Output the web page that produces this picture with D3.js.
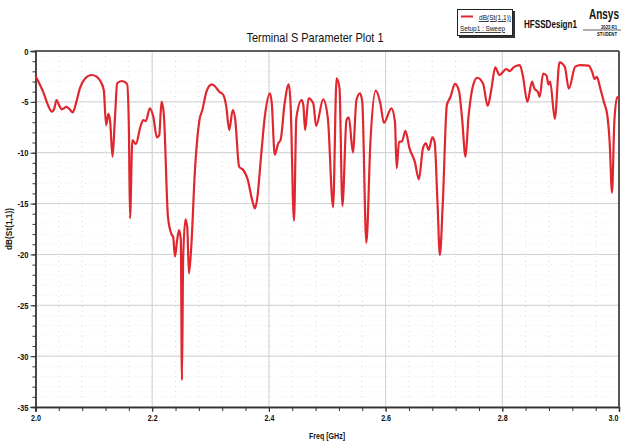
<!DOCTYPE html>
<html>
<head>
<meta charset="utf-8">
<script src="https://cdn.jsdelivr.net/npm/d3@7"></script>
<style>
  body { margin: 0; background: #fff; }
  svg text { font-family: "Liberation Sans", Arial, sans-serif; }
</style>
</head>
<body>
<div id="chart"></div>
<script>
// S11 sweep
var freqs = [2.000, 2.013, 2.022, 2.028, 2.032, 2.036, 2.041, 2.045, 2.053, 2.058, 2.064, 2.070, 2.076, 2.085, 2.096,
  2.104, 2.110, 2.117, 2.121, 2.125, 2.128, 2.132, 2.136, 2.140, 2.148, 2.157, 2.160, 2.162, 2.166, 2.172,
  2.180, 2.185, 2.189, 2.196, 2.202, 2.208, 2.212, 2.216, 2.220, 2.227, 2.233, 2.236, 2.239, 2.243, 2.246,
  2.249, 2.251, 2.253, 2.257, 2.260, 2.263, 2.267, 2.273, 2.281, 2.286, 2.293, 2.302, 2.307, 2.315, 2.322,
  2.327, 2.332, 2.338, 2.342, 2.349, 2.356, 2.363, 2.372, 2.376, 2.380, 2.387, 2.393, 2.402, 2.405, 2.410,
  2.416, 2.420, 2.427, 2.434, 2.437, 2.443, 2.447, 2.456, 2.459, 2.462, 2.468, 2.476, 2.481, 2.493, 2.501,
  2.510, 2.516, 2.521, 2.526, 2.533, 2.537, 2.544, 2.550, 2.556, 2.560, 2.567, 2.574, 2.583, 2.591, 2.597,
  2.610, 2.616, 2.619, 2.623, 2.628, 2.634, 2.641, 2.650, 2.657, 2.664, 2.669, 2.674, 2.680, 2.684, 2.689,
  2.693, 2.698, 2.705, 2.711, 2.719, 2.726, 2.731, 2.737, 2.742, 2.745, 2.750, 2.757, 2.767, 2.775, 2.781,
  2.788, 2.795, 2.807, 2.812, 2.821, 2.830, 2.835, 2.843, 2.851, 2.855, 2.861, 2.864, 2.870, 2.876, 2.879,
  2.882, 2.890, 2.898, 2.907, 2.914, 2.925, 2.934, 2.948, 2.954, 2.958, 2.962, 2.968, 2.974, 2.980, 2.984,
  2.988, 2.992, 2.997, 3.000];
var s11 = [-2.45, -4.0, -5.4, -5.97, -5.7, -4.82, -5.4, -5.73, -5.5, -5.7, -6.03, -5.0, -3.67, -2.7, -2.36,
  -2.5, -2.85, -3.83, -7.28, -6.19, -7.0, -10.39, -6.8, -3.18, -2.95, -3.24, -7.44, -16.45, -8.75, -9.14,
  -7.4, -6.8, -6.9, -5.64, -6.5, -8.49, -8.3, -4.98, -6.29, -16.3, -18.0, -18.3, -20.2, -18.5, -17.6,
  -18.5, -32.35, -20.5, -16.55, -17.3, -21.86, -19.2, -12.0, -6.78, -5.8, -4.0, -3.28, -3.44, -4.0, -4.33,
  -5.48, -7.77, -5.8, -6.6, -11.38, -11.7, -12.5, -14.8, -15.47, -14.5, -10.06, -6.46, -4.16, -5.2, -10.2,
  -9.08, -8.75, -5.14, -3.28, -5.0, -16.68, -6.6, -4.82, -5.3, -7.77, -4.65, -5.14, -7.37, -4.75, -6.6,
  -15.37, -2.69, -3.67, -15.24, -6.78, -6.52, -9.96, -4.82, -4.16, -5.0, -18.85, -8.92, -3.9, -5.14, -7.05,
  -5.64, -6.95, -11.53, -8.92, -8.9, -7.84, -9.57, -10.88, -12.62, -9.57, -9.08, -9.73, -8.49, -8.92, -15.0,
  -20.06, -14.98, -5.31, -4.55, -3.24, -4.0, -6.6, -10.39, -6.5, -5.0, -3.36, -2.63, -3.2, -5.4, -3.85,
  -1.6, -2.36, -1.77, -1.97, -1.54, -1.38, -2.36, -5.0, -3.02, -3.69, -4.03, -4.52, -2.21, -2.44, -3.3,
  -3.0, -6.67, -1.12, -1.54, -3.7, -1.54, -1.38, -1.44, -2.05, -2.75, -2.54, -3.7, -5.0, -6.33, -8.98,
  -13.92, -6.98, -4.52, -4.68];

var xTicks = [2.0, 2.2, 2.4, 2.6, 2.8, 3.0];
var yTicks = [0, -5, -10, -15, -20, -25, -30, -35];

var W = 621, H = 441;
var margin = {left: 35.5, right: 2, top: 51, bottom: 34};

var svg = d3.select('#chart').append('svg')
    .attr('width', W)
    .attr('height', H)
    .attr('viewBox', [0, 0, W, H]);

var x = d3.scaleLinear().domain([2, 3]).range([margin.left, W - margin.right]);
var y = d3.scaleLinear().domain([-35, 0]).range([H - margin.bottom, margin.top]);

var x0 = x.range()[0], x1 = x.range()[1], y0 = y.range()[1], y1 = y.range()[0];

// squeeze text to look like the narrow font of the original
function narrow(sel, k) {
  sel.each(function () {
    var w = this.getComputedTextLength();
    d3.select(this).attr('textLength', w * k).attr('lengthAdjust', 'spacingAndGlyphs');
  });
}
function fitTo(sel, w) {
  sel.attr('textLength', w).attr('lengthAdjust', 'spacingAndGlyphs');
}

// minor grid (dotted)
var g = svg.append('g');
g.selectAll('.mgx').data(d3.range(2, 3.0001, 0.04))
  .enter().append('line')
    .attr('x1', d => x(d)).attr('x2', d => x(d))
    .attr('y1', y0).attr('y2', y1)
    .attr('stroke', '#dcdcdc').attr('stroke-dasharray', '1,4');
g.selectAll('.mgy').data(d3.range(-35, 0.001, 1))
  .enter().append('line')
    .attr('x1', x0).attr('x2', x1)
    .attr('y1', d => y(d)).attr('y2', d => y(d))
    .attr('stroke', '#e4e4e4').attr('stroke-dasharray', '1,4');

// major grid
g.selectAll('.gx').data(xTicks)
  .enter().append('line')
    .attr('x1', d => x(d)).attr('x2', d => x(d))
    .attr('y1', y0).attr('y2', y1)
    .attr('stroke', '#cfcfcf').attr('stroke-width', 1);
g.selectAll('.gy').data(yTicks)
  .enter().append('line')
    .attr('x1', x0).attr('x2', x1)
    .attr('y1', d => y(d)).attr('y2', d => y(d))
    .attr('stroke', '#cfcfcf').attr('stroke-width', 1);

// axes
var xMinor = d3.axisBottom(x).tickValues(d3.range(2, 3.0001, 0.04)).tickSize(4).tickFormat('');
var xAxis = d3.axisBottom(x).tickValues(xTicks).tickSize(5).tickPadding(2).tickFormat(d3.format('.1f'));
var yMinor = d3.axisLeft(y).tickValues(d3.range(-35, 0.001, 1)).tickSize(3).tickFormat('');
var yAxis = d3.axisLeft(y).tickValues(yTicks).tickSize(5).tickPadding(2).tickFormat(d => String(d));

function styleAxis(sel) {
  sel.select('.domain').attr('stroke', '#333').attr('stroke-width', 1.3);
  sel.selectAll('.tick line').attr('stroke', '#333');
  sel.selectAll('text')
    .attr('fill', '#111')
    .attr('font-size', 9.5)
    .attr('font-weight', 'bold');
}

svg.append('g').attr('transform', `translate(0,${y1})`).call(xMinor).call(styleAxis);
var xg = svg.append('g').attr('transform', `translate(0,${y1})`).call(xAxis).call(styleAxis);
xg.selectAll('text').call(narrow, 0.75);
// last label sits against the right edge
xg.selectAll('.tick text').filter(d => d === 3.0).attr('text-anchor', 'end').attr('dx', -1);
svg.append('g').attr('transform', `translate(${x0},0)`).call(yMinor).call(styleAxis);
svg.append('g').attr('transform', `translate(${x0},0)`).call(yAxis).call(styleAxis)
  .selectAll('text').call(narrow, 0.8);

// frame top / right
svg.append('line').attr('x1', x0).attr('x2', x1).attr('y1', y0).attr('y2', y0)
  .attr('stroke', '#333').attr('stroke-width', 1.3);
svg.append('line').attr('x1', x1).attr('x2', x1).attr('y1', y0).attr('y2', y1)
  .attr('stroke', '#555').attr('stroke-width', 2);

// curve
var data = freqs.map((f, i) => ({f: f, v: s11[i]}));
var line = d3.line()
    .x(d => x(d.f))
    .y(d => y(d.v))
    .curve(d3.curveMonotoneX);

svg.append('path')
    .datum(data)
    .attr('d', line)
    .attr('fill', 'none')
    .attr('stroke', '#e0262e')
    .attr('stroke-width', 2.2)
    .attr('stroke-linejoin', 'round');

// titles
svg.append('text')
    .attr('x', 315).attr('y', 42)
    .attr('text-anchor', 'middle')
    .attr('font-size', 13.5)
    .attr('fill', '#111')
    .text('Terminal S Parameter Plot 1')
    .call(fitTo, 137);

svg.append('text')
    .attr('x', 327).attr('y', 439)
    .attr('text-anchor', 'middle')
    .attr('font-size', 9)
    .attr('font-weight', 'bold')
    .attr('fill', '#111')
    .text('Freq [GHz]')
    .call(fitTo, 36);

svg.append('text')
    .attr('transform', `translate(12,${(y0 + y1) / 2}) rotate(-90)`)
    .attr('text-anchor', 'middle')
    .attr('font-size', 9)
    .attr('font-weight', 'bold')
    .attr('fill', '#111')
    .text('dB(St(1,1))')
    .call(fitTo, 42);

// legend box
var lg = svg.append('g');
lg.append('rect').attr('x', 459).attr('y', 11).attr('width', 56).attr('height', 27)
  .attr('fill', '#333');
lg.append('rect').attr('x', 457.5).attr('y', 9.5).attr('width', 55).attr('height', 26)
  .attr('fill', '#fff').attr('stroke', '#222').attr('stroke-width', 1);
lg.append('line').attr('x1', 461).attr('x2', 473).attr('y1', 16.5).attr('y2', 16.5)
  .attr('stroke', '#e0262e').attr('stroke-width', 2);
lg.append('text').attr('x', 479).attr('y', 20)
  .attr('font-size', 8).attr('text-decoration', 'underline').attr('fill', '#111')
  .text('dB(St(1,1))')
  .call(fitTo, 32);
lg.append('text').attr('x', 460).attr('y', 31)
  .attr('font-size', 8).attr('text-decoration', 'underline').attr('fill', '#111')
  .text('Setup1 : Sweep')
  .call(fitTo, 45);

svg.append('text').attr('x', 524).attr('y', 28)
  .attr('font-size', 11).attr('font-weight', 'bold').attr('fill', '#111')
  .text('HFSSDesign1')
  .call(fitTo, 53);

// Ansys logo text, stretched vertically instead of squeezed
svg.append('text').attr('transform', 'translate(589,19) scale(1,1.45)')
  .attr('font-size', 10).attr('font-weight', 'bold').attr('fill', '#111')
  .text('Ansys');
svg.append('text').attr('x', 601).attr('y', 28.5)
  .attr('font-size', 4.5).attr('font-weight', 'bold').attr('fill', '#111')
  .text('2023 R1')
  .call(fitTo, 16);
svg.append('line').attr('x1', 583).attr('x2', 621).attr('y1', 30).attr('y2', 30)
  .attr('stroke', '#333').attr('stroke-width', 0.8);
svg.append('text').attr('x', 597).attr('y', 36)
  .attr('font-size', 5).attr('font-weight', 'bold').attr('fill', '#111')
  .text('STUDENT')
  .call(fitTo, 20);
</script>
</body>
</html>
